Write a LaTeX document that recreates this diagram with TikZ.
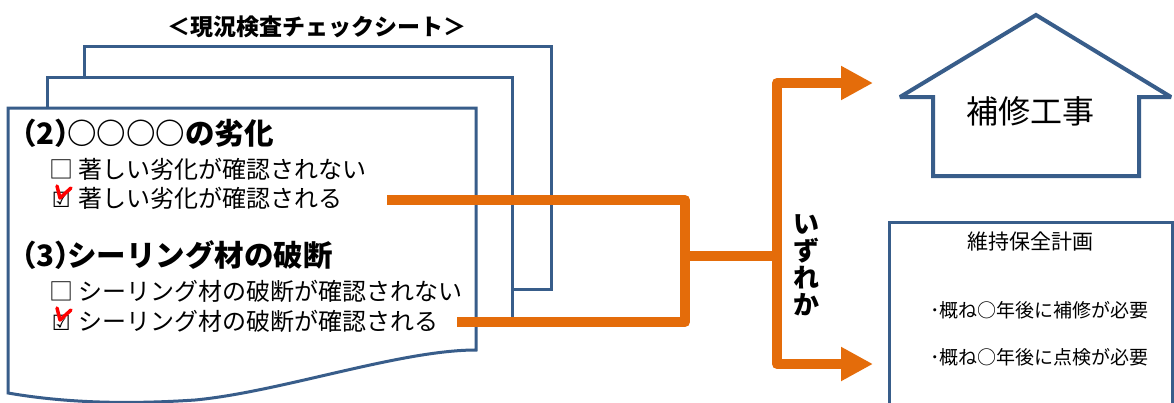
\documentclass[tikz,border=0pt]{standalone}
\usepackage{fontspec}
\setmainfont{Noto Sans CJK JP}
\newfontfamily\dejavu{DejaVu Sans}
\usetikzlibrary{arrows.meta}
\definecolor{pageblue}{RGB}{56,93,138}
\definecolor{arroworange}{RGB}{228,108,10}
\definecolor{checkred}{RGB}{255,0,0}
\begin{document}
\begin{tikzpicture}[x=1pt,y=-1pt,
  pageline/.style={draw=pageblue,line width=3pt,line join=miter},
  flow/.style={draw=arroworange,line width=10pt,line join=round},
  bigtip/.style={-{Triangle[width=32pt,length=32pt]}},
  heading/.style={font=\fontsize{29.5}{29.5}\selectfont\bfseries,anchor=west,inner sep=0pt},
  item/.style={font=\fontsize{24}{24}\selectfont,anchor=west,inner sep=0pt},
  boxtext/.style={font=\fontsize{19}{19}\selectfont,anchor=west,inner sep=0pt},
  redcheck/.style={draw=checkred,line width=3.5pt,line cap=round,line join=round},
]
\useasboundingbox (0,0) rectangle (1174,402);
\fill[white] (0,0) rectangle (1174,402);
\clip (0,0) rectangle (1174,402);

% stacked sheets
\draw[pageline] (84,77) -- (84,46) -- (551,46) -- (551,289) -- (512,289);
\draw[pageline] (47,108) -- (47,77) -- (512,77) -- (512,320) -- (476,320);
\draw[pageline] (8,393) -- (8,108) -- (476,108) -- (476,350)
  .. controls (400,350) and (280,392) .. (195,400)
  .. controls (120,405) and (60,402) .. (8,393) -- cycle;

% title
\node[font=\fontsize{23}{23}\selectfont\bfseries,inner sep=0pt] (title) at (317,27) {＜現況検査チェックシート＞};

% sheet contents
\node[heading] (h2) at (7,133) {（2）\kern-17pt ○○○○の劣化};
\node[item] (i2a) at (49,169) {□ 著しい劣化が確認されない};
\node[item] (i2b) at (49,198) {\makebox[24pt]{\dejavu\fontsize{21}{21}\selectfont ☑} 著しい劣化が確認される};
\node[heading] (h3) at (7,255) {（3）\kern-17pt シーリング材の破断};
\node[item] (i3a) at (49,291) {□ シーリング材の破断が確認されない};
\node[item] (i3b) at (49,321) {\makebox[24pt]{\dejavu\fontsize{21}{21}\selectfont ☑} シーリング材の破断が確認される};
\draw[redcheck] (57,186) -- (60,198) -- (71,188);
\draw[redcheck] (57,308) -- (60,320) -- (71,310);

% orange connectors
\coordinate (s2) at (387,200);
\coordinate (s3) at (457,322);
\coordinate (jm) at (685,256);
\coordinate (vm) at (777,256);
\coordinate (t1) at (873,83);
\coordinate (t2) at (873,364);
\draw[flow] (s2) -| (jm) |- (s3);
\draw[flow] (jm) -- (vm);
\draw[flow,bigtip] (vm) |- (t1);
\draw[flow,bigtip] (vm) |- (t2);
\node[font=\fontsize{26}{27}\selectfont\bfseries,align=center,inner sep=0pt] (izure) at (806,265) {い\\ず\\れ\\か};

% house
\draw[draw=pageblue,line width=4pt,miter limit=2] (1036,15) -- (1171,97) -- (1139,97) -- (1139,176) -- (933,176) -- (933,97) -- (900,97) -- cycle;
\node[font=\fontsize{32}{32}\selectfont,inner sep=0pt] (repair) at (1030,111) {補修工事};

% plan box
\draw[pageline] (889,420) -- (889,222) -- (1172,222) -- (1172,420);
\node[font=\fontsize{21}{21}\selectfont,inner sep=0pt] (plan) at (1030,242) {維持保全計画};
\node[boxtext] (p1) at (930,310) {･概ね○年後に補修が必要};
\node[boxtext] (p2) at (930,357) {･概ね○年後に点検が必要};
\end{tikzpicture}
\end{document}
